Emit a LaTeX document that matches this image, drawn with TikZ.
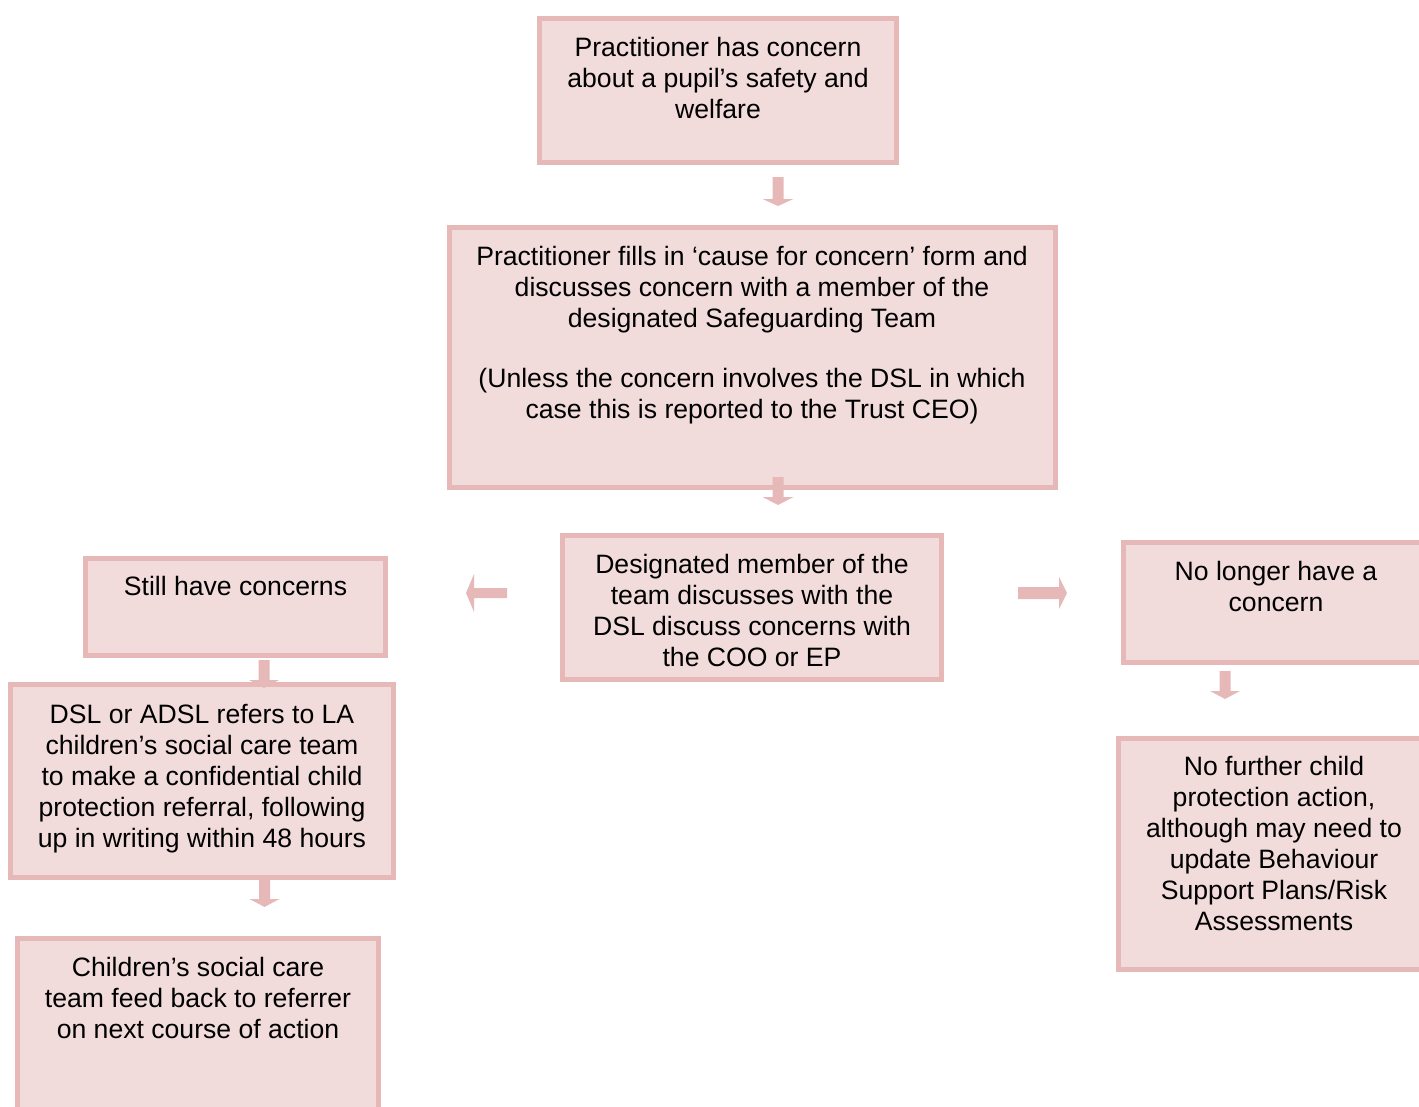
\documentclass[tikz,border=0pt]{standalone}
\usepackage{fontspec}
\setmainfont{Liberation Sans}
\definecolor{boxfill}{HTML}{F2DCDB}
\definecolor{boxline}{HTML}{E6B9B8}
\tikzset{
  box/.style={draw=boxline, line width=5pt, fill=boxfill, rectangle, inner sep=0pt, outer sep=0pt},
  txt/.style={anchor=north, inner sep=0pt, align=center, font=\fontsize{26.6}{31}\selectfont},
  blk/.style={fill=boxline},
}
% vertical block arrow: x, top, head base, tip, shaft half width, head half width
\newcommand{\vblk}[6]{%
  \fill[blk] ({#1-#5},#2) -- ({#1+#5},#2) -- ({#1+#5},#3) -- ({#1+#6},#3) -- (#1,#4)
    -- ({#1-#6},#3) -- ({#1-#5},#3) -- cycle;}
% horizontal block arrow: y, start, head base, tip, shaft half width, head half width
\newcommand{\hblk}[6]{%
  \fill[blk] (#2,{#1-#5}) -- (#2,{#1+#5}) -- (#3,{#1+#5}) -- (#3,{#1+#6}) -- (#4,#1)
    -- (#3,{#1-#6}) -- (#3,{#1-#5}) -- cycle;}
\newcommand{\st}{\rule{0pt}{20pt}}
\begin{document}
\begin{tikzpicture}[x=1pt, y=-1pt]
\useasboundingbox (0,0) rectangle (1419,1106);
\clip (0,0) rectangle (1419,1106);
% boxes
\node[box, minimum width=357pt, minimum height=143.5pt] (b1) at (718,90.25) {};
\node[box, minimum width=606pt, minimum height=260pt] (b2) at (752.5,357.5) {};
\node[box, minimum width=379pt, minimum height=144pt] (b3) at (752,607.5) {};
\node[box, minimum width=300.5pt, minimum height=97pt] (b4) at (235.25,607) {};
\node[box, minimum width=383pt, minimum height=193pt] (b5) at (202,781) {};
\node[box, minimum width=361pt, minimum height=191.5pt] (b6) at (198,1034.25) {};
\node[box, minimum width=312pt, minimum height=120pt] (b7) at (1279,602.5) {};
\node[box, minimum width=316.5pt, minimum height=230.5pt] (b8) at (1276.75,853.75) {};
% texts
\node[txt] (t1) at (718,36.5) {\st Practitioner has concern\\about a pupil’s safety and\\welfare};
\node[txt] (t2a) at (752,245) {\st Practitioner fills in ‘cause for concern’ form and\\discusses concern with a member of the\\designated Safeguarding Team};
\node[txt] (t2b) at (752,367.5) {\st (Unless the concern involves the DSL in which\\case this is reported to the Trust CEO)};
\node[txt] (t3) at (752,553) {\st Designated member of the\\team discusses with the\\DSL discuss concerns with\\the COO or EP};
\node[txt] (t4) at (235.5,575.5) {\st Still have concerns};
\node[txt] (t5) at (202,703) {\st DSL or ADSL refers to LA\\children’s social care team\\to make a confidential child\\protection referral, following\\up in writing within 48 hours};
\node[txt] (t6) at (198,956.5) {\st Children’s social care\\team feed back to referrer\\on next course of action};
\node[txt] (t7) at (1276,560) {\st No longer have a\\concern};
\node[txt] (t8) at (1274,755) {\st No further child\\protection action,\\although may need to\\update Behaviour\\Support Plans/Risk\\Assessments};
% block arrows
\vblk{778}{177}{199}{206}{5.5}{15.5}
\vblk{778}{477}{497}{505}{5.5}{15.5}
\vblk{264}{660}{680}{688}{5.5}{15}
\vblk{264.5}{879}{899}{907}{5.5}{15}
\vblk{1225}{671}{691}{699}{5.5}{15}
\hblk{593}{507}{474}{466}{5}{19}
\hblk{593}{1018}{1059}{1067}{6}{16}
\end{tikzpicture}
\end{document}
